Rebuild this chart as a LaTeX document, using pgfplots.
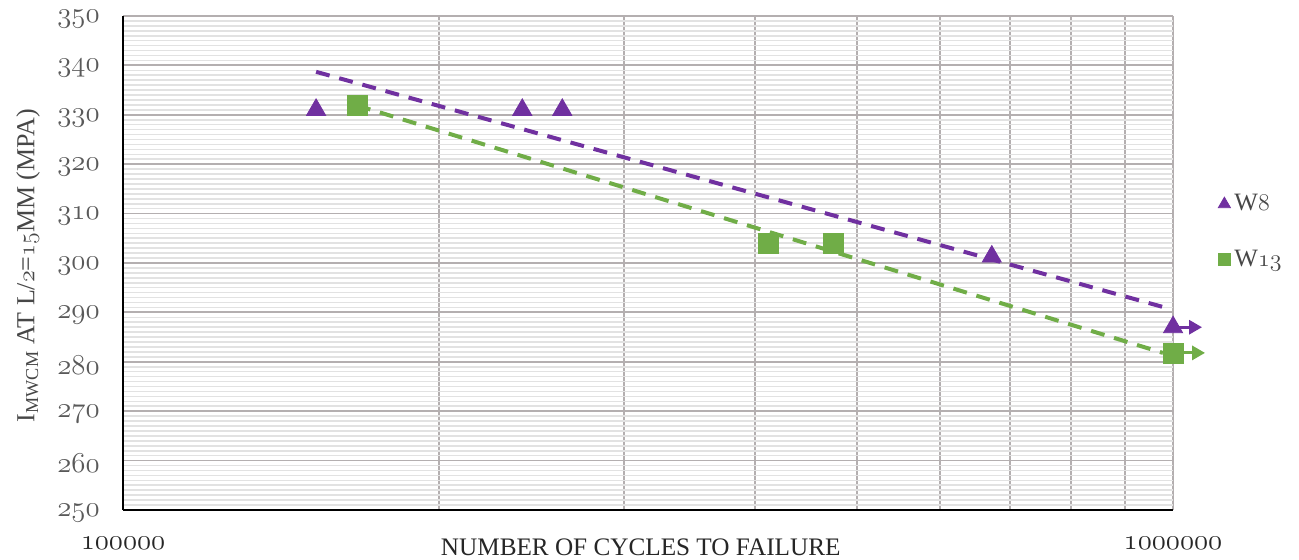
\documentclass[border=0pt]{standalone}
\usepackage{fontspec}
\setmainfont{Liberation Serif}
\usepackage{pgfplots}
\pgfplotsset{compat=1.18}
\usetikzlibrary{arrows.meta}
\newcommand\osn[1]{{\usefont{OML}{cmm}{m}{it}#1}}
\definecolor{wpurple}{HTML}{7030A0}
\definecolor{wgreen}{HTML}{70AD47}
\definecolor{majgrid}{HTML}{B4AFB0}
\definecolor{mingrid}{HTML}{E2E2E2}
\definecolor{ticktext}{HTML}{595959}
\definecolor{titletext}{HTML}{262626}
\begin{document}
\begin{tikzpicture}
\begin{axis}[
  name=ax,
  scale only axis,
  width=525pt, height=247pt,
  xmode=log, xmin=1e5, xmax=1e6,
  ymin=250, ymax=350,
  xtick={1e5,1e6}, xticklabels={\osn{100000},\osn{1000000}},
  minor xtick={2e5,3e5,4e5,5e5,6e5,7e5,8e5,9e5},
  ytick={250,260,270,280,290,300,310,320,330,340,350},
  yticklabels={\osn{250},\osn{260},\osn{270},\osn{280},\osn{290},\osn{300},\osn{310},\osn{320},\osn{330},\osn{340},\osn{350}},
  minor y tick num=9,
  grid=both,
  major grid style={draw=majgrid, line width=0.9pt},
  minor grid style={draw=mingrid, line width=0.8pt},
  minor x grid style={draw=majgrid, line width=0.9pt},
  axis x line*=bottom, axis y line*=left,
  axis line style={black, line width=1pt, -},
  major tick length=0pt, minor tick length=0pt,
  clip=false,
  yticklabel style={font=\fontsize{14}{16}\selectfont, text=ticktext, anchor=east, inner sep=0pt, xshift=-11.5pt, yshift=-1.5pt},
  xticklabel style={font=\fontsize{14.5}{16}\selectfont, text=titletext, anchor=center, inner sep=0pt, yshift=-16.5pt},
  xlabel={NUMBER OF CYCLES TO FAILURE},
  xlabel style={font=\fontsize{12.6}{14}\selectfont, text=titletext, at={(axis description cs:0.493,0)}, anchor=center, yshift=-18.5pt},
  ylabel={I\textsubscript{MWCM} AT L/\osn{2}=\osn{15}MM (MPA)},
  ylabel style={font=\fontsize{13}{15}\selectfont, text=ticktext!80!black, at={(axis description cs:-0.0905,0.495)}, anchor=center},
  legend style={at={(1.037,0.563)}, anchor=west, draw=none, fill=none, font=\fontsize{12.5}{14}\selectfont, text=ticktext!80!black, row sep=14pt, cells={anchor=west}},
]
% run-out arrows
\addplot[forget plot, wpurple, line width=1.5pt, -{Triangle[length=6.5pt, width=7pt]}] coordinates {(1000000,287) (1065600,287)};
\addplot[forget plot, wgreen, line width=1.5pt, -{Triangle[length=6.5pt, width=7pt]}] coordinates {(1000000,281.8) (1072700,281.8)};
% data
\addplot[only marks, mark=triangle*, mark size=5.5pt, color=wpurple, legend image post style={mark size=3.5pt}]
  coordinates {(152700,331) (240000,331) (262000,331) (672000,301.3) (1000000,287)};
\addlegendentry{W\osn{8}}
\addplot[only marks, mark=square*, mark size=5pt, color=wgreen, legend image post style={mark size=3pt}]
  coordinates {(167000,332) (412000,304) (475000,304) (1000000,281.8)};
\addlegendentry{W\osn{13}}
% trend lines
\addplot[forget plot, wpurple, line width=2pt, dash pattern=on 7pt off 5pt] coordinates {(152700,338.7) (978000,291.1)};
\addplot[forget plot, wgreen, line width=2pt, dash pattern=on 7pt off 5pt] coordinates {(167000,331.9) (978000,281.8)};
\end{axis}
\pgfresetboundingbox
\path ([xshift=-61.5pt, yshift=-25pt]ax.south west) rectangle ([xshift=63pt, yshift=8pt]ax.north east);
\end{tikzpicture}
\end{document}
